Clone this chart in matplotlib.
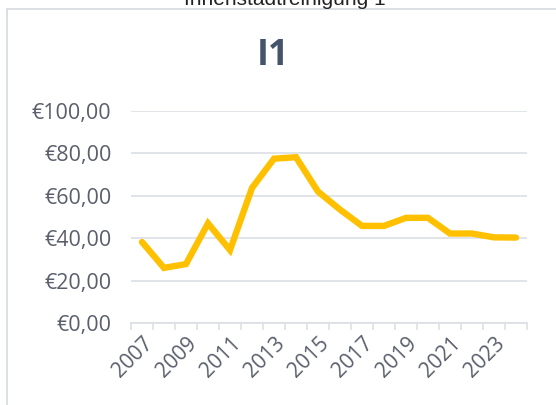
import matplotlib
matplotlib.use('Agg')
import matplotlib.pyplot as plt
from matplotlib.lines import Line2D

YEARS = list(range(2007, 2025))
PRICES = [38.2, 26.0, 27.8, 47.0, 34.4, 63.7, 77.5, 78.2, 62.0, 53.5,
          45.8, 45.8, 49.6, 49.6, 42.2, 42.2, 40.4, 40.3]
Y_TICKS = [0, 20, 40, 60, 80, 100]
TITLE = 'I1'
SUPTITLE = 'Innenstadtreinigung 1'

LINE_COL = '#FFC000'
TEXT_COL = '#595f6b'
GRID_COL = '#dcdfe5'

plt.rcParams['font.family'] = ['Open Sans', 'DejaVu Sans']

fig = plt.figure(figsize=(5.56, 4.05), dpi=100)
ax = fig.add_axes([131/556, 1 - 323/405, (527 - 131)/556, (323 - 111)/405])

x = [i + 0.5 for i in range(len(YEARS))]
ax.plot(x, PRICES, color=LINE_COL, lw=4.6, solid_joinstyle='miter',
        solid_capstyle='round', zorder=3)

ax.set_xlim(0, len(YEARS))
ax.set_ylim(0, 100)

ax.set_yticks(Y_TICKS)
ax.set_yticklabels(['€{},00'.format(v) for v in Y_TICKS])
ax.tick_params(axis='y', length=0, pad=14, labelsize=15.5, labelcolor=TEXT_COL)
ax.grid(axis='y', color=GRID_COL, lw=1.2)
ax.set_axisbelow(True)

# ticks between categories, labels on every other year
ax.set_xticks(range(len(YEARS) + 1))
ax.set_xticklabels([])
ax.tick_params(axis='x', which='major', length=5, width=1.2, color=GRID_COL)
ax.set_xticks(x[::2], minor=True)
ax.set_xticklabels([str(y) for y in YEARS[::2]], minor=True, rotation=45,
                   ha='right', rotation_mode='anchor')
ax.tick_params(axis='x', which='minor', length=0, pad=7, labelsize=15,
               labelcolor=TEXT_COL)

for s in ['left', 'right', 'top']:
    ax.spines[s].set_visible(False)
ax.spines['bottom'].set_color(GRID_COL)
ax.spines['bottom'].set_linewidth(1.2)

# chart area border (only top and left edges visible in the crop)
fig.add_artist(Line2D([7/556, 1], [1 - 9/405, 1 - 9/405], color='#d9dde3',
                      lw=1.3, transform=fig.transFigure))
fig.add_artist(Line2D([7/556, 7/556], [0, 1 - 9/405], color='#d9dde3',
                      lw=1.3, transform=fig.transFigure))

fig.text(285/556, 1 - 5/405, SUPTITLE, ha='center', va='baseline',
         fontsize=15, color='#222222', family=['Liberation Sans', 'DejaVu Sans'])
fig.text(273/556, 1 - 56/405, TITLE, ha='center', va='center',
         fontsize=26, fontweight='bold', color='#44546A')

fig.savefig('out.png', dpi=100)
